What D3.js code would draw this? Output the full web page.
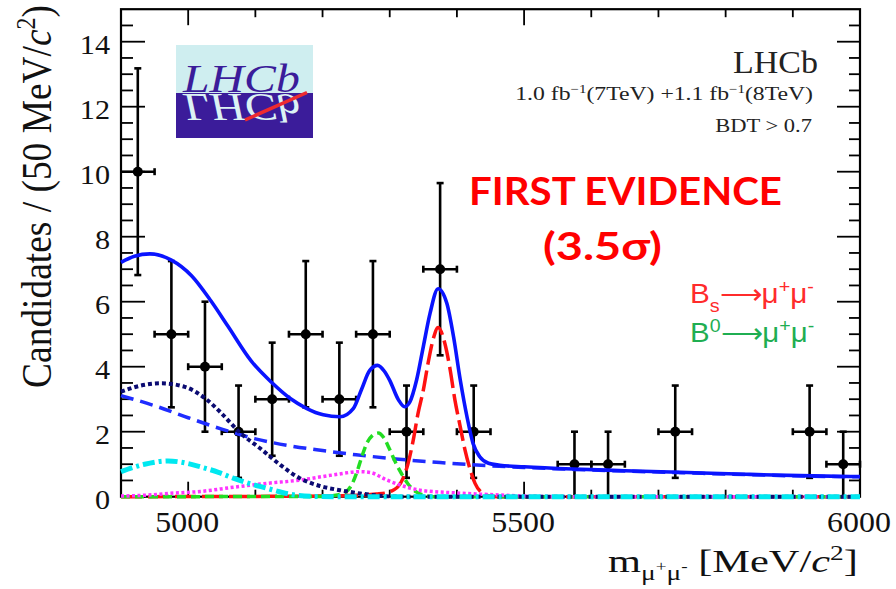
<!DOCTYPE html>
<html>
<head>
<meta charset="utf-8">
<script src="https://cdn.jsdelivr.net/npm/d3@7"></script>
<style>
  html, body { margin: 0; padding: 0; background: #fff; }
  svg { display: block; }
  .serif { font-family: "Liberation Serif", "Times New Roman", Times, Tinos, "Nimbus Roman", serif; }
  .sans { font-family: "Liberation Sans", Arial, Helvetica, Arimo, sans-serif; }
</style>
</head>
<body>
<svg id="chart" width="896" height="589"></svg>
<script>
// ---- Data: dimuon invariant mass, 50 MeV/c^2 bins ----
const binCenters = [4925, 4975, 5025, 5075, 5125, 5175, 5225, 5275, 5325, 5375, 5425, 5575, 5625, 5725, 5925, 5975];
const binCounts  = [10, 5, 4, 2, 3, 5, 3, 5, 2, 7, 2, 1, 1, 2, 2, 1];
const binErrors  = [3.18, 2.25, 2.0, 1.42, 1.74, 2.25, 1.74, 2.25, 1.42, 2.65, 1.42, 1.0, 1.0, 1.42, 1.42, 1.0];
const binHalfWidth = 25;

// ---- Fit components, [mass, candidates per bin] ----
const totalFit = [[4900,7.21],[4920,7.40],[4943,7.47],[4975,7.28],[5005,6.80],[5034,6.02],[5059,5.25],[5094,4.17],
  [5124,3.52],[5152,3.02],[5176,2.72],[5201,2.52],[5226,2.46],[5246,2.72],[5258,3.30],[5270,3.88],[5282,4.04],
  [5292,3.86],[5300,3.58],[5313,2.98],[5322,2.77],[5330,2.92],[5340,3.59],[5350,4.62],[5360,5.64],[5372,6.40],
  [5385,5.95],[5395,4.92],[5405,3.59],[5415,2.46],[5424,1.64],[5434,1.23],[5447,1.03],[5464,0.97],[5500,0.92],
  [5573,0.85],[5650,0.80],[5732,0.75],[5830,0.69],[5930,0.64],[6000,0.62]];
const combinatorial = [[4900,3.11],[4950,2.80],[5000,2.43],[5050,2.08],[5100,1.78],[5150,1.57],[5200,1.42],
  [5250,1.29],[5300,1.18],[5375,1.05],[5450,0.95],[5500,0.90],[5573,0.84],[5650,0.79],[5732,0.74],[5830,0.68],
  [5930,0.63],[6000,0.61]];
const partialReco = [[4900,3.23],[4930,3.42],[4960,3.49],[4995,3.38],[5025,3.03],[5047,2.62],[5077,1.97],
  [5107,1.49],[5137,0.98],[5166,0.57],[5196,0.33],[5226,0.20],[5256,0.10],[5285,0.03],[5320,0],[6000,0]];
const peakingBkg = [[4900,0.77],[4935,1.00],[4970,1.10],[5000,1.02],[5018,0.92],[5045,0.75],[5067,0.57],
  [5092,0.40],[5117,0.26],[5140,0.13],[5160,0.05],[5185,0.01],[5220,0],[6000,0]];
const semileptonic = [[4900,0.02],[4940,0.05],[4970,0.10],[5018,0.16],[5067,0.29],[5117,0.41],[5166,0.51],
  [5216,0.67],[5256,0.77],[5272,0.74],[5295,0.52],[5320,0.33],[5345,0.20],[5395,0.12],[5445,0.07],[5500,0.02],
  [5560,0],[6000,0]];
const bdSignal = [[4900,0],[5200,0.01],[5222,0.05],[5235,0.15],[5243,0.35],[5251,0.75],[5258,1.20],[5266,1.65],
  [5274,1.88],[5283,1.96],[5291,1.82],[5300,1.45],[5308,1.08],[5315,0.80],[5320,0.62],[5327,0.40],[5333,0.26],
  [5340,0.14],[5350,0.05],[5365,0],[6000,0]];
const bsSignal = [[4900,0],[5200,0.02],[5260,0.05],[5280,0.08],[5295,0.12],[5305,0.20],[5312,0.30],[5320,0.57],
  [5327,1.00],[5335,1.74],[5342,2.55],[5350,3.28],[5357,4.10],[5365,4.87],[5372,5.21],[5382,4.72],[5390,3.90],
  [5397,2.98],[5405,2.15],[5412,1.44],[5420,0.82],[5427,0.41],[5437,0.12],[5447,0.03],[5460,0],[6000,0]];

// ---- Axis ticks ----
const xMajorTicks = [5000, 5500, 6000];
const xMinorTicks = [5100, 5200, 5300, 5400, 5600, 5700, 5800, 5900];
const yMajorTicks = [0, 2, 4, 6, 8, 10, 12, 14];
const yMinorTicks = d3.range(0.5, 15, 0.5).filter(v => v % 2 !== 0);

// ---- Layout ----
const svg = d3.select("#chart");
const x = d3.scaleLinear().domain([4900, 6000]).range([121, 860]);
const y = d3.scaleLinear().domain([0, 15]).range([496.7, 9.2]);
const SX = 1.12;           // horizontal stretch of the typeset text

// Scale a text element horizontally so its width hits a target
function fitWidth(sel, tx, ty, target) {
  const bb = sel.node().getBBox();
  const k = target / bb.width;
  sel.attr("transform", `translate(${tx},${ty}) scale(${k},1)`);
}

// ---- Frame and ticks ----
const axes = svg.append("g").attr("stroke", "#000").attr("fill", "none");
axes.append("rect")
  .attr("x", x(4900)).attr("y", y(15))
  .attr("width", x(6000) - x(4900)).attr("height", y(0) - y(15))
  .attr("stroke-width", 2.2);

yMajorTicks.forEach(v => {
  axes.append("line").attr("x1", x(4900)).attr("x2", x(4900) + 24).attr("y1", y(v)).attr("y2", y(v)).attr("stroke-width", 1.8);
  axes.append("line").attr("x1", x(6000) - 23).attr("x2", x(6000)).attr("y1", y(v)).attr("y2", y(v)).attr("stroke-width", 1.8);
});
yMinorTicks.forEach(v => {
  axes.append("line").attr("x1", x(4900)).attr("x2", x(4900) + 12).attr("y1", y(v)).attr("y2", y(v)).attr("stroke-width", 1.8);
  axes.append("line").attr("x1", x(6000) - 11).attr("x2", x(6000)).attr("y1", y(v)).attr("y2", y(v)).attr("stroke-width", 1.8);
});
xMajorTicks.forEach(v => {
  axes.append("line").attr("x1", x(v)).attr("x2", x(v)).attr("y1", y(0)).attr("y2", y(0) - 15).attr("stroke-width", 1.8);
  axes.append("line").attr("x1", x(v)).attr("x2", x(v)).attr("y1", y(15)).attr("y2", y(15) + 16).attr("stroke-width", 1.8);
});
xMinorTicks.forEach(v => {
  axes.append("line").attr("x1", x(v)).attr("x2", x(v)).attr("y1", y(0)).attr("y2", y(0) - 7).attr("stroke-width", 1.8);
  axes.append("line").attr("x1", x(v)).attr("x2", x(v)).attr("y1", y(15)).attr("y2", y(15) + 8).attr("stroke-width", 1.8);
});

// Tick labels
yMajorTicks.forEach(v => {
  svg.append("text").attr("class", "serif")
    .attr("transform", `translate(110,${y(v) + 12}) scale(${SX},1)`)
    .attr("text-anchor", "end")
    .style("font-size", "27px").attr("fill", "#111")
    .text(v);
});
xMajorTicks.forEach(v => {
  svg.append("text").attr("class", "serif")
    .attr("transform", `translate(${x(v) - 1},531.5) scale(${SX},1)`)
    .attr("text-anchor", "middle")
    .style("font-size", "28.5px").attr("fill", "#111")
    .text(v);
});

// Axis titles
const yTitle = svg.append("text").attr("class", "serif")
  .attr("text-anchor", "end")
  .style("font-size", "37.5px").attr("fill", "#111");
yTitle.append("tspan").text("Candidates / (50 MeV/");
yTitle.append("tspan").style("font-style", "italic").text("c");
yTitle.append("tspan").attr("dy", -14).style("font-size", "24px").text("2");
yTitle.append("tspan").attr("dy", 14).text(")");
{
  const bb = yTitle.node().getBBox();
  const k = 383 / bb.width;
  yTitle.attr("transform", `translate(51,5) scale(${SX},1) rotate(-90) scale(${k},1)`);
}

const xTitle = svg.append("text").attr("class", "serif")
  .attr("text-anchor", "start")
  .style("font-size", "31px").attr("fill", "#111");
xTitle.append("tspan").text("m");
xTitle.append("tspan").attr("dy", 8).style("font-size", "20px").text("μ");
xTitle.append("tspan").attr("dy", -9).style("font-size", "14px").text("+");
xTitle.append("tspan").attr("dy", 9).style("font-size", "20px").text("μ");
xTitle.append("tspan").attr("dy", -9).style("font-size", "14px").text("-");
xTitle.append("tspan").attr("dy", 1).text(" [MeV/");
xTitle.append("tspan").style("font-style", "italic").text("c");
xTitle.append("tspan").attr("dy", -12).style("font-size", "20px").text("2");
xTitle.append("tspan").attr("dy", 12).text("]");
fitWidth(xTitle, 608, 572, 250);

// ---- Experiment labels ----
const lhcbLabel = svg.append("text").attr("class", "serif").attr("text-anchor", "end")
  .style("font-size", "31px").attr("fill", "#222").text("LHCb");
fitWidth(lhcbLabel, 818, 73, 85);

const lumi = svg.append("text").attr("class", "serif").attr("text-anchor", "end")
  .style("font-size", "19px").attr("fill", "#222");
lumi.append("tspan").text("1.0 fb");
lumi.append("tspan").attr("dy", -7).style("font-size", "12px").text("−1");
lumi.append("tspan").attr("dy", 7).text("(7TeV) +1.1 fb");
lumi.append("tspan").attr("dy", -7).style("font-size", "12px").text("−1");
lumi.append("tspan").attr("dy", 7).text("(8TeV)");
fitWidth(lumi, 813, 100, 298);

const bdt = svg.append("text").attr("class", "serif").attr("text-anchor", "end")
  .style("font-size", "19.5px").attr("fill", "#222").text("BDT > 0.7");
fitWidth(bdt, 812, 132, 97);

// ---- Logo ----
const logo = svg.append("g");
logo.append("rect").attr("x", 176).attr("y", 45).attr("width", 137).attr("height", 48).attr("fill", "#cfeef0");
logo.append("rect").attr("x", 176).attr("y", 93).attr("width", 137).attr("height", 45).attr("fill", "#3b1c9a");
svg.append("clipPath").attr("id", "logoLower")
  .append("rect").attr("x", 176).attr("y", 93).attr("width", 137).attr("height", 45);
const mirror = logo.append("g").attr("clip-path", "url(#logoLower)")
  .append("g").attr("transform", "translate(0,186) scale(1,-1)");
const logoMirror = mirror.append("text").attr("class", "serif").attr("text-anchor", "start")
  .style("font-style", "italic").style("font-size", "40px")
  .attr("fill", "#dcf2f4").text("LHCb");
fitWidth(logoMirror, 183, 92, 118);
logo.append("line").attr("x1", 245).attr("y1", 120).attr("x2", 307).attr("y2", 92.5)
  .attr("stroke", "#ee2a30").attr("stroke-width", 3.5);
const logoText = logo.append("text").attr("class", "serif").attr("text-anchor", "start")
  .style("font-style", "italic").style("font-size", "40px")
  .attr("fill", "#3b1c9a").text("LHCb");
fitWidth(logoText, 183, 92, 118);

// ---- Data points ----
const data = binCenters.map((m, i) => ({ m, n: binCounts[i], e: binErrors[i] }));
const pts = svg.append("g").attr("stroke", "#000").attr("stroke-width", 2.6);
data.forEach(d => {
  const lo = Math.max(0, d.n - d.e), hi = d.n + d.e;
  const xl = Math.max(x(d.m - binHalfWidth), x(4900)), xr = x(d.m + binHalfWidth);
  pts.append("line").attr("x1", x(d.m)).attr("x2", x(d.m)).attr("y1", y(lo)).attr("y2", y(hi));
  pts.append("line").attr("x1", xl).attr("x2", xr).attr("y1", y(d.n)).attr("y2", y(d.n));
  [lo, hi].forEach(v => {
    if (v > 0) pts.append("line").attr("x1", x(d.m) - 3.5).attr("x2", x(d.m) + 3.5).attr("y1", y(v)).attr("y2", y(v));
  });
  [xl, xr].forEach(px => {
    if (px > x(4900)) pts.append("line").attr("x1", px).attr("x2", px).attr("y1", y(d.n) - 3.5).attr("y2", y(d.n) + 3.5);
  });
  pts.append("circle").attr("cx", x(d.m)).attr("cy", y(d.n)).attr("r", 5).attr("fill", "#000").attr("stroke", "none");
});

// ---- Fit curves ----
const line = d3.line().x(d => x(d[0])).y(d => y(d[1])).curve(d3.curveMonotoneX);
const curves = [
  { pts: combinatorial, color: "#1f2cff", width: 3.5, dash: "13,7" },
  { pts: bsSignal,      color: "#ff1111", width: 3.5, dash: "21,6" },
  { pts: bdSignal,      color: "#22dd22", width: 3.5, dash: "9,5" },
  { pts: semileptonic,  color: "#ff33ff", width: 3.5, dash: "3,2.5" },
  { pts: partialReco,   color: "#0b0b72", width: 4,   dash: "4,3" },
  { pts: peakingBkg,    color: "#00e8f0", width: 5,   dash: "12,4,3,4" },
  { pts: totalFit,      color: "#0a14ff", width: 3.6, dash: null }
];
curves.forEach(c => {
  svg.append("path").datum(c.pts)
    .attr("d", line)
    .attr("fill", "none")
    .attr("stroke", c.color)
    .attr("stroke-width", c.width)
    .attr("stroke-dasharray", c.dash)
    .attr("stroke-linejoin", "round");
});

// ---- Annotations ----
const evidence = svg.append("text").attr("text-anchor", "start")
  .style("font-family", "Lato, 'Open Sans', sans-serif").style("font-weight", 700).style("font-size", "39px")
  .attr("fill", "#ff0000").text("FIRST EVIDENCE");
fitWidth(evidence, 469, 205, 313);
const signif = svg.append("text").attr("text-anchor", "start")
  .style("font-family", "Lato, 'Open Sans', sans-serif").style("font-weight", 700).style("font-size", "39px")
  .attr("fill", "#ff0000").text("(3.5σ)");
fitWidth(signif, 543, 260, 119);

// ---- Legend ----
function legendEntry(yBase, color, script, isSub) {
  const t = svg.append("text").attr("class", "sans").attr("text-anchor", "start")
    .style("font-size", "27px").attr("fill", color);
  t.append("tspan").text("B");
  t.append("tspan").attr("dy", isSub ? 9 : -10).style("font-size", "18px").text(script);
  t.append("tspan").attr("dy", isSub ? -9 : 10).text("⟶μ");
  t.append("tspan").attr("dy", -10).style("font-size", "18px").text("+");
  t.append("tspan").attr("dy", 10).text("μ");
  t.append("tspan").attr("dy", -10).style("font-size", "18px").text("-");
  fitWidth(t, 690, yBase, 125);
}
legendEntry(303, "#ff2b2b", "s", true);
legendEntry(342, "#1fae52", "0", false);
</script>
</body>
</html>
